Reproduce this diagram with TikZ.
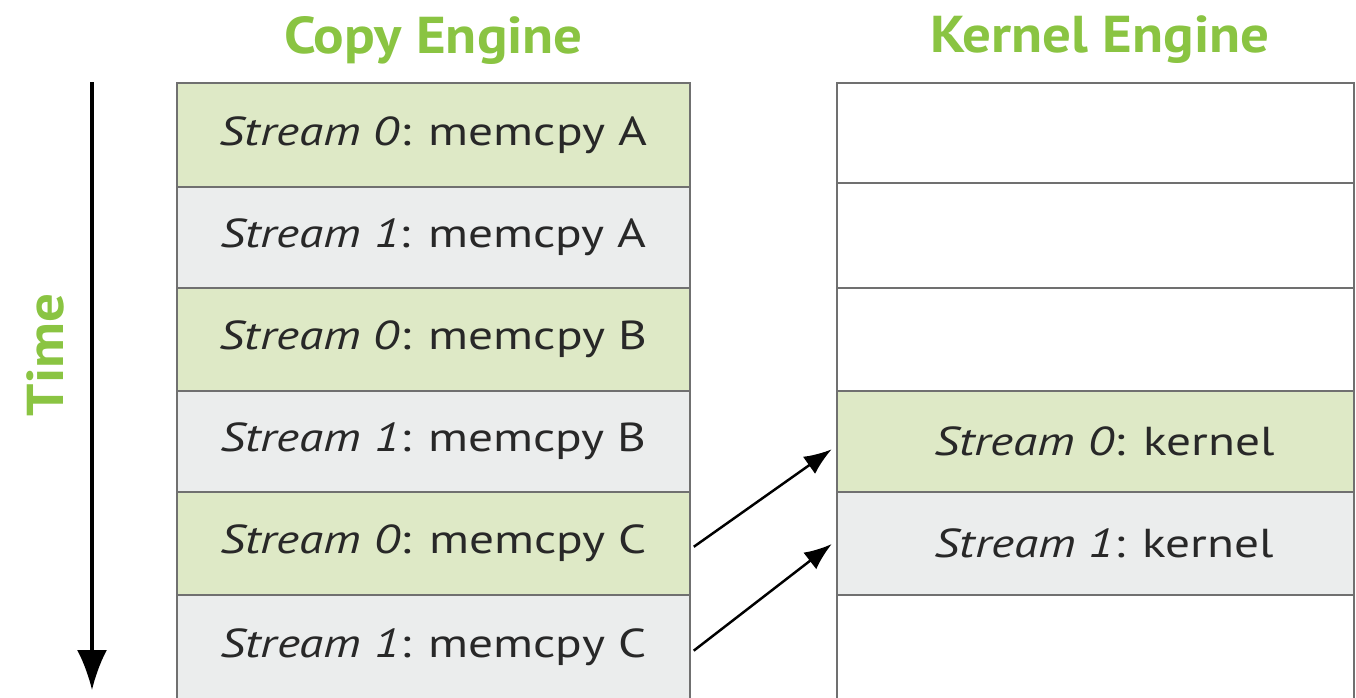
\documentclass[tikz,border=0pt]{standalone}
\usepackage{fontspec}
\setmainfont{PT Sans}
\newfontfamily\cellfont[FakeStretch=1.22]{PT Sans}
\newfontfamily\headfont[FakeStretch=1.1]{PT Sans}
\usetikzlibrary{arrows.meta}
\definecolor{titlegreen}{RGB}{138,196,66}
\definecolor{cellgreen}{RGB}{222,233,198}
\definecolor{cellgray}{RGB}{235,237,237}
\definecolor{linegray}{RGB}{112,112,112}
\definecolor{textdark}{RGB}{40,40,40}
\tikzset{
	cell/.style={draw=linegray, line width=1.6pt, inner sep=0pt, text=textdark, font=\cellfont\fontsize{23}{28}\selectfont},
	copycell/.style={cell, minimum width=10.26cm},
	kernelcell/.style={cell, minimum width=10.34cm, fill=white},
	title/.style={text=titlegreen, font=\headfont\bfseries\fontsize{29.5}{34}\selectfont},
}
\begin{document}
\begin{tikzpicture}[x=0.02cm, y=-0.02cm]
	\useasboundingbox (0,0) rectangle (1356,697);
	\node [title] (copyhead) at (433.5,40) {Copy Engine};
	\node [title] (kernelhead) at (1100,40) {Kernel Engine};
	% copy engine
	\node [copycell, fill=cellgreen, minimum height=2.08cm] (c1) at (433.5,135) {\textit{Stream 0}: memcpy A};
	\node [copycell, fill=cellgray, minimum height=2.02cm] (c2) at (433.5,237.5) {\textit{Stream 1}: memcpy A};
	\node [copycell, fill=cellgreen, minimum height=2.06cm] (c3) at (433.5,339.5) {\textit{Stream 0}: memcpy B};
	\node [copycell, fill=cellgray, minimum height=2.02cm] (c4) at (433.5,441.5) {\textit{Stream 1}: memcpy B};
	\node [copycell, fill=cellgreen, minimum height=2.06cm] (c5) at (433.5,543.5) {\textit{Stream 0}: memcpy C};
	\node [copycell, fill=cellgray, minimum height=2.1cm] (c6) at (433.5,647.5) {\textit{Stream 1}: memcpy C};
	% kernel engine
	\node [kernelcell, minimum height=2cm] (k1) at (1095.5,133) {};
	\node [kernelcell, minimum height=2.1cm] (k2) at (1095.5,235.5) {};
	\node [kernelcell, minimum height=2.06cm] (k3) at (1095.5,339.5) {};
	\node [kernelcell, fill=cellgreen, minimum height=2.02cm] (k4) at (1095.5,441.5) {\hspace{0.36cm}\textit{Stream 0}: kernel};
	\node [kernelcell, fill=cellgray, minimum height=2.06cm] (k5) at (1095.5,543.5) {\hspace{0.36cm}\textit{Stream 1}: kernel};
	\node [kernelcell, minimum height=2.1cm] (k6) at (1095.5,647.5) {};
	% time axis
	\coordinate (t0) at (92,82);
	\coordinate (t1) at (92,690);
	\draw [line width=1.8pt, -{Latex[length=0.8cm,width=0.6cm]}] (t0) -- (t1);
	\node [title, rotate=90] (timelabel) at (45,355) {Time};
	\draw [line width=1.4pt, shorten <=0.06cm, shorten >=0.1cm, -{Latex[length=0.55cm,width=0.42cm]}] ([yshift=-0.1cm]c5.east) -- ([yshift=-0.1cm]k4.west);
	\draw [line width=1.4pt, shorten <=0.06cm, shorten >=0.1cm, -{Latex[length=0.55cm,width=0.42cm]}] ([yshift=-0.1cm]c6.east) -- ([yshift=0.05cm]k5.west);
\end{tikzpicture}
\end{document}
